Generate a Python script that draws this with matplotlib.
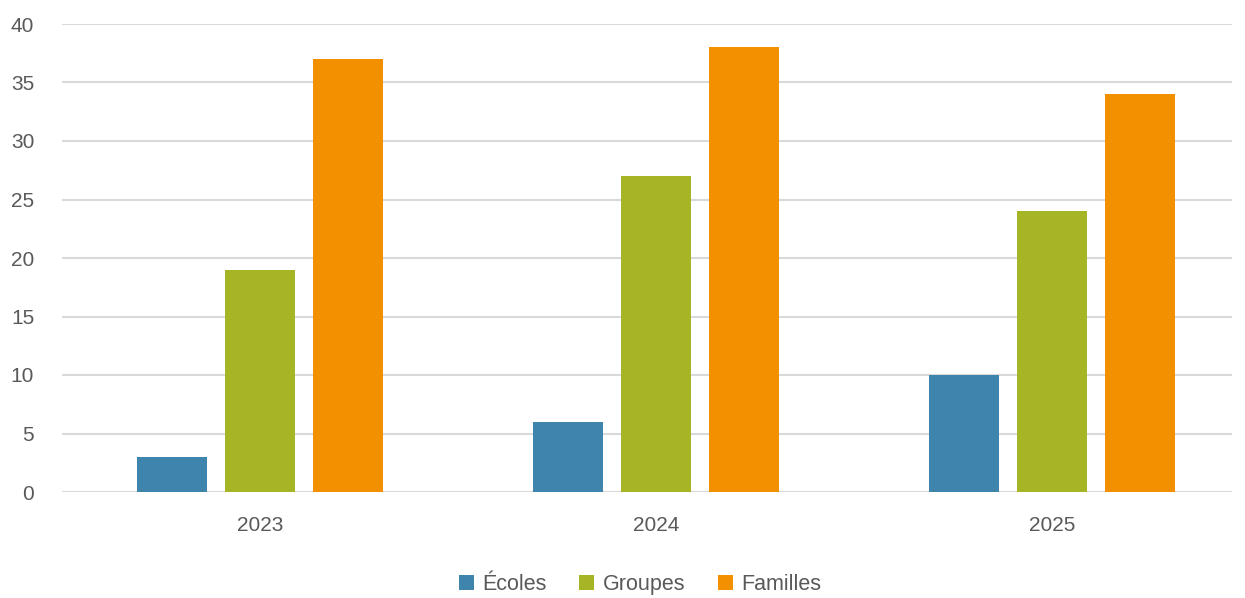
import matplotlib
matplotlib.use("Agg")
import matplotlib.pyplot as plt
import numpy as np

years = ["2023", "2024", "2025"]
ecoles = [3, 6, 10]
groupes = [19, 27, 24]
familles = [37, 38, 34]
series = ["Écoles", "Groupes", "Familles"]
colors = ["#3F84AD", "#A6B525", "#F39000"]

plt.rcParams['font.family'] = ['Liberation Sans', 'DejaVu Sans']

fig = plt.figure(figsize=(12.45, 5.98), dpi=100)
ax = fig.add_axes([62/1245, 106/598, (1232-62)/1245, 468/598])

x = np.arange(len(years))
w = 0.177
off = 0.222
for i, (vals, name) in enumerate(zip([ecoles, groupes, familles], series)):
    ax.bar(x + (i - 1) * off, vals, w, color=colors[i], label=name, zorder=3)

ax.set_xlim(-0.5, 2.455)
ax.set_ylim(0, 40)
ax.set_yticks(range(0, 41, 5))
ax.set_xticks(x)
ax.set_xticklabels(years)
ax.yaxis.grid(True, color="#D9D9D9", linewidth=1.5, zorder=0)
ax.axhline(0, color="#D9D9D9", linewidth=1.5, zorder=2)
for s in ax.spines.values():
    s.set_visible(False)
ax.tick_params(axis='both', length=0, labelsize=15, colors="#595959")
ax.tick_params(axis='y', pad=20)
ax.tick_params(axis='x', pad=17)

leg = ax.legend(loc='upper center', bbox_to_anchor=(0.494, -0.134), ncol=3, frameon=False,
                fontsize=15.5, handlelength=0.7, handleheight=0.7, columnspacing=1.5,
                handletextpad=0.4, labelcolor="#595959")

fig.savefig("out.png", dpi=100)
